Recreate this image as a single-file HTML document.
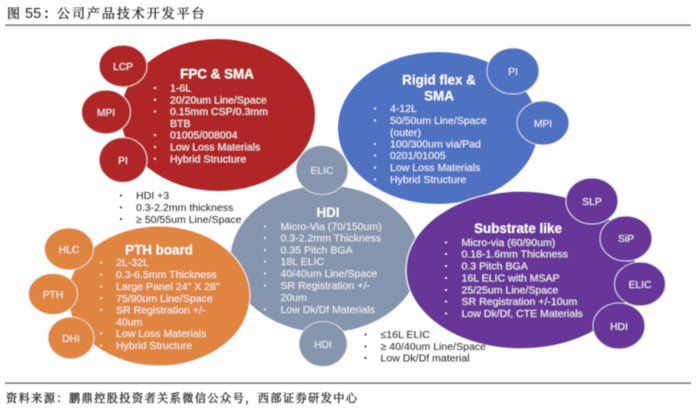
<!DOCTYPE html>
<html><head><meta charset="utf-8"><style>
html,body{margin:0;padding:0;background:#fff;width:700px;height:409px;overflow:hidden}
svg{display:block}
text{font-family:"Liberation Sans","Noto Sans CJK SC",sans-serif}
.w{fill:#f4f4f4;font-size:10.55px}
.k{fill:#222;font-size:10.55px}
.t{fill:#fff;font-size:13.4px;font-weight:bold;text-anchor:middle}
.c{fill:#f2f2f2;font-size:10.3px;text-anchor:middle}
.cn{font-family:"Noto Serif CJK SC","Liberation Serif",serif;fill:#222;stroke:#222;stroke-width:0.3}
</style></head><body>
<svg width="700" height="409" viewBox="0 0 700 409" xmlns="http://www.w3.org/2000/svg">
<defs><filter id="b" x="-2%" y="-2%" width="104%" height="104%"><feGaussianBlur stdDeviation="0.45"/></filter></defs>
<rect width="700" height="409" fill="#fff"/>
<g filter="url(#b)">
<text x="7" y="18" class="cn" font-size="13">图</text>
<text x="25" y="18" font-size="14.5" fill="#222">55</text>
<text x="44" y="18" font-size="14.5" fill="#222" font-weight="bold">:</text>
<text x="57" y="18" class="cn" font-size="13" letter-spacing="1.95">公司产品技术开发平台</text>
<rect x="5" y="24.5" width="686" height="1.3" fill="#666"/>
<rect x="5" y="382.5" width="686" height="1.3" fill="#666"/>
<text x="6" y="402" class="cn" font-size="11.2" letter-spacing="1.4">资料来源：鹏鼎控股投资者关系微信公众号，西部证券研发中心</text>

<g stroke="#e8e8e8" stroke-width="0.8">
<ellipse cx="218" cy="115" rx="97" ry="76" fill="#b02725" stroke="none"/>
<ellipse cx="123" cy="66" rx="24" ry="21" fill="#b02725"/>
<ellipse cx="106" cy="112" rx="24.5" ry="22" fill="#b02725"/>
<ellipse cx="123" cy="160" rx="24" ry="22.5" fill="#b02725"/>

<ellipse cx="438" cy="128" rx="100" ry="76" fill="#4f71c2" stroke="none"/>
<ellipse cx="513" cy="71" rx="26" ry="23" fill="#4f71c2"/>
<ellipse cx="543" cy="123" rx="26" ry="22" fill="#4f71c2"/>

<ellipse cx="325" cy="259" rx="95" ry="74" fill="#8595ae" stroke="#fff" stroke-width="1"/>
<ellipse cx="322" cy="170" rx="26" ry="24.5" fill="#8595ae"/>
<ellipse cx="323" cy="344" rx="24" ry="22.5" fill="#8595ae"/>

<ellipse cx="159" cy="296" rx="91" ry="70" fill="#e08540" stroke="#fff" stroke-width="0.8"/>
<ellipse cx="69" cy="249" rx="24.5" ry="21" fill="#e08540"/>
<ellipse cx="53" cy="294" rx="24.5" ry="20.5" fill="#e08540"/>
<ellipse cx="71" cy="338" rx="23" ry="21" fill="#e08540"/>

<ellipse cx="521" cy="270" rx="115" ry="79" fill="#673498" stroke="#fff" stroke-width="1"/>
<ellipse cx="592" cy="201" rx="26" ry="23" fill="#673498"/>
<ellipse cx="626" cy="238.500" rx="26" ry="22.500" fill="#673498"/>
<ellipse cx="640" cy="284" rx="25.500" ry="22" fill="#673498"/>
<ellipse cx="619" cy="326" rx="26" ry="23" fill="#673498"/>
</g>

<text x="123" y="70" class="c">LCP</text>
<text x="106" y="116" class="c">MPI</text>
<text x="123" y="164" class="c">PI</text>
<text x="513" y="75" class="c">PI</text>
<text x="543" y="127" class="c">MPI</text>
<text x="322" y="174" class="c">ELIC</text>
<text x="323" y="348" class="c">HDI</text>
<text x="69" y="253" class="c">HLC</text>
<text x="53" y="298" class="c">PTH</text>
<text x="71" y="342" class="c">DHI</text>
<text x="592" y="205" class="c">SLP</text>
<text x="626" y="242" class="c">SiP</text>
<text x="640" y="288" class="c">ELIC</text>
<text x="619" y="330" class="c">HDI</text>

<text x="217" y="78.500" class="t">FPC &amp; SMA</text>
<text class="w" x="170" y="91.500">1-6L</text><text class="w" x="170" y="103.300">20/20um Line/Space</text><text class="w" x="170" y="115">0.15mm CSP/0.3mm</text><text class="w" x="170" y="127">BTB</text><text class="w" x="170" y="138.500">01005/008004</text><text class="w" x="170" y="150.500">Low Loss Materials</text><text class="w" x="170" y="162.300">Hybrid Structure</text>
<g fill="#f4f4f4"><circle cx="155" cy="88" r="1"/><circle cx="155" cy="99.800" r="1"/><circle cx="155" cy="111.500" r="1"/><circle cx="155" cy="135" r="1"/><circle cx="155" cy="147" r="1"/><circle cx="155" cy="158.800" r="1"/></g>

<text x="439" y="84.500" class="t">Rigid flex &amp;</text>
<text x="439" y="100.500" class="t">SMA</text>
<text class="w" x="390" y="112">4-12L</text><text class="w" x="390" y="124">50/50um Line/Space</text><text class="w" x="390" y="136">(outer)</text><text class="w" x="390" y="147.500">100/300um via/Pad</text><text class="w" x="390" y="159">0201/01005</text><text class="w" x="390" y="171">Low Loss Materials</text><text class="w" x="390" y="183">Hybrid Structure</text>
<g fill="#f4f4f4"><circle cx="375" cy="108.500" r="1"/><circle cx="375" cy="120.500" r="1"/><circle cx="375" cy="144" r="1"/><circle cx="375" cy="155.500" r="1"/><circle cx="375" cy="167.500" r="1"/><circle cx="375" cy="179.500" r="1"/></g>

<text class="k" x="136" y="199">HDI +3</text><text class="k" x="136" y="211">0.3-2.2mm thickness</text><text class="k" x="136" y="222.800">≥ 50/55um Line/Space</text>
<g fill="#222"><circle cx="121" cy="195.500" r="1"/><circle cx="121" cy="207.500" r="1"/><circle cx="121" cy="219" r="1"/></g>

<text x="328" y="217" class="t">HDI</text>
<text class="w" x="280.500" y="230">Micro-Via (70/150um)</text><text class="w" x="280.500" y="241.500">0.3-2.2mm Thickness</text><text class="w" x="280.500" y="253.500">0.35 Pitch BGA</text><text class="w" x="280.500" y="265">18L ELIC</text><text class="w" x="280.500" y="277">40/40um Line/Space</text><text class="w" x="280.500" y="289">SR Registration +/-</text><text class="w" x="280.500" y="301">20um</text><text class="w" x="280.500" y="312.800">Low Dk/Df Materials</text>
<g fill="#f4f4f4"><circle cx="265" cy="226.500" r="1"/><circle cx="265" cy="238" r="1"/><circle cx="265" cy="250" r="1"/><circle cx="265" cy="261.500" r="1"/><circle cx="265" cy="273.500" r="1"/><circle cx="265" cy="285.500" r="1"/><circle cx="265" cy="309.300" r="1"/></g>

<text x="159" y="254.500" class="t">PTH board</text>
<text class="w" x="116" y="266">2L-32L</text><text class="w" x="116" y="278">0.3-6.5mm Thickness</text><text class="w" x="116" y="290">Large Panel 24" X 28"</text><text class="w" x="116" y="301.800">75/90um Line/Space</text><text class="w" x="116" y="313.500">SR Registration +/-</text><text class="w" x="116" y="325.500">40um</text><text class="w" x="116" y="337">Low Loss Materials</text><text class="w" x="116" y="349">Hybrid Structure</text>
<g fill="#f4f4f4"><circle cx="101" cy="262.500" r="1"/><circle cx="101" cy="274.500" r="1"/><circle cx="101" cy="286.500" r="1"/><circle cx="101" cy="298.300" r="1"/><circle cx="101" cy="310" r="1"/><circle cx="101" cy="333.500" r="1"/><circle cx="101" cy="345.500" r="1"/></g>

<text x="518" y="233" class="t">Substrate like</text>
<text class="w" x="461.500" y="246">Micro-via (60/90um)</text><text class="w" x="461.500" y="257.500">0.18-1.6mm Thickness</text><text class="w" x="461.500" y="269.500">0.3 Pitch BGA</text><text class="w" x="461.500" y="281.500">16L ELIC with MSAP</text><text class="w" x="461.500" y="293.500">25/25um Line/Space</text><text class="w" x="461.500" y="305">SR Registration +/-10um</text><text class="w" x="461.500" y="317">Low Dk/Df, CTE Materials</text>
<g fill="#f4f4f4"><circle cx="446" cy="242.500" r="1"/><circle cx="446" cy="254" r="1"/><circle cx="446" cy="266" r="1"/><circle cx="446" cy="278" r="1"/><circle cx="446" cy="290" r="1"/><circle cx="446" cy="301.500" r="1"/><circle cx="446" cy="313.500" r="1"/></g>

<text class="k" x="380.500" y="338">≤16L ELIC</text><text class="k" x="380.500" y="350">≥ 40/40um Line/Space</text><text class="k" x="380.500" y="361.500">Low Dk/Df material</text>
<g fill="#222"><circle cx="365.500" cy="334.500" r="1"/><circle cx="365.500" cy="346.500" r="1"/><circle cx="365.500" cy="358" r="1"/></g>
</g>
</svg>
</body></html>
